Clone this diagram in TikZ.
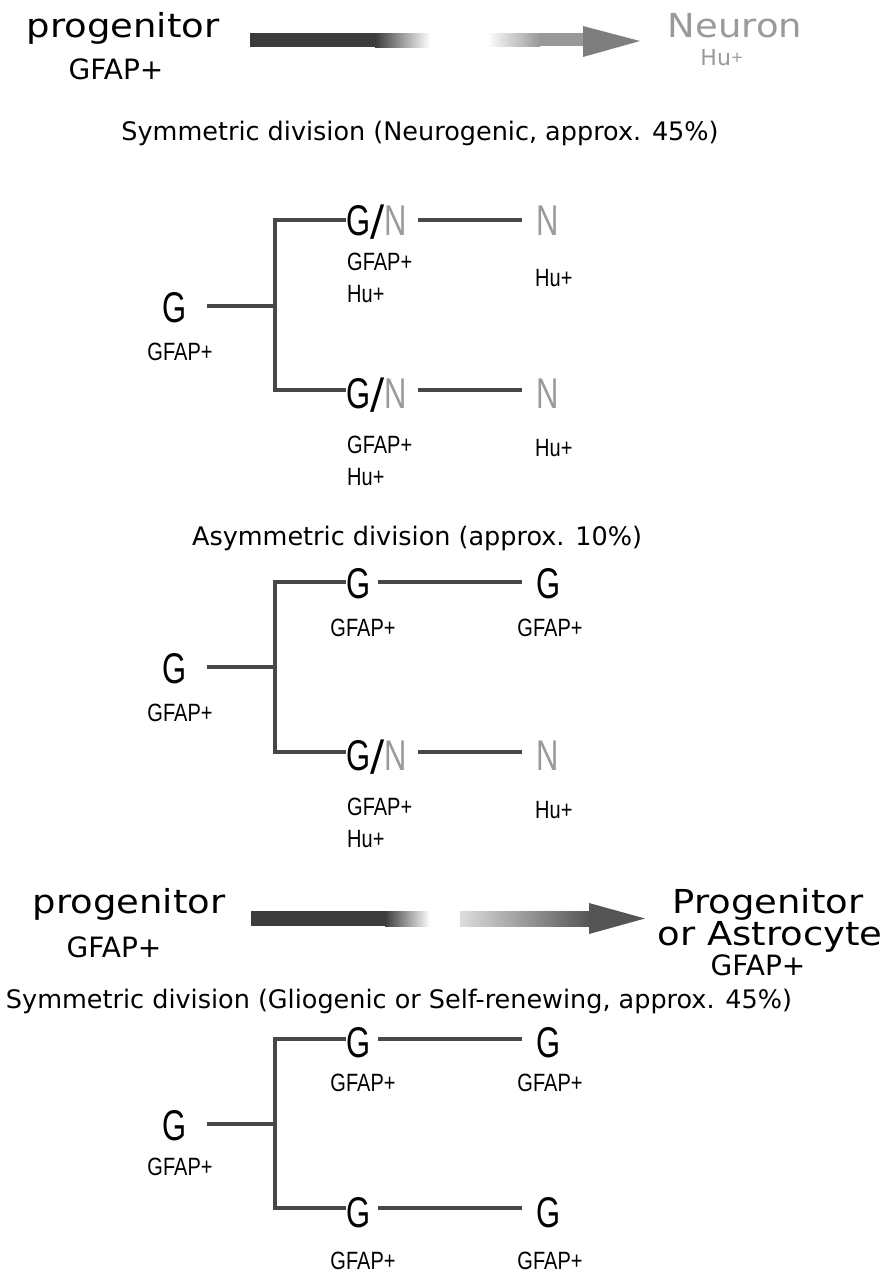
\documentclass[tikz,border=0pt]{standalone}
\usepackage{fontspec}
\setmainfont{DejaVu Sans}
\newfontfamily\widefont[FakeStretch=1.12]{DejaVu Sans}
\newfontfamily\slashfont{DejaVu Sans}
\newfontfamily\condfont[FakeStretch=0.72]{Liberation Sans}
\newfontfamily\condlab[FakeStretch=0.8]{Liberation Sans}
\definecolor{ngray}{HTML}{9A9A9A}
\definecolor{linegray}{HTML}{474747}
\definecolor{bardark}{HTML}{3C3C3C}
\definecolor{headgray}{HTML}{7E7E7E}
\definecolor{headdark}{HTML}{555555}
\newcommand{\gnslash}{{\slashfont\fontsize{42}{42}\selectfont /}}
\tikzset{
  bigG/.style={font=\condfont\fontsize{43}{43}\selectfont, inner sep=0pt, text height=31pt, text depth=0pt, anchor=west},
  labtxt/.style={font=\condlab\fontsize{25}{25}\selectfont, inner sep=0pt, text height=18pt, text depth=0pt},
  branch/.style={draw=linegray, line width=4pt},
  ttl/.style={font=\fontsize{25.5}{25.5}\selectfont, inner sep=0pt, anchor=base},
  bigtxt/.style={font=\widefont\fontsize{33}{33}\selectfont, inner sep=0pt, anchor=base},
  midtxt/.style={font=\fontsize{28}{28}\selectfont, inner sep=0pt, anchor=base},
  hutxt/.style={font=\fontsize{22}{22}\selectfont, inner sep=0pt, anchor=base, text=ngray}
}
\begin{document}
\begin{tikzpicture}[x=1pt,y=-1pt]
\useasboundingbox (0,0) rectangle (890,1272);

% ---------- top row ----------
\node[bigtxt] (p1) at (123,37) {progenitor};
\node[midtxt] (g1) at (116,79) {GFAP+};
\node[bigtxt, text=ngray] (n1) at (735,37) {Neuron};
\node[hutxt] (h1) at (722,65) {Hu\raisebox{3pt}{\fontsize{15}{15}\selectfont+}};
\fill[bardark] (250,33) rectangle (375,47);
\shade[left color=bardark, right color=white] (375,33) rectangle (430,47);
\shade[left color=white, right color=headgray!80] (487,33) rectangle (540,46);
\fill[headgray!80] (540,33) rectangle (584,46);
\fill[headgray] (583,26) -- (640,41) -- (583,57) -- cycle;

\node[ttl] (ttl1) at (420,140) {Symmetric division (Neurogenic, approx. 45\%)};

% ---------- tree 1 ----------
\node[bigG] (t1r) at (162,307) {G};
\node[labtxt] (t1rl) at (180,351) {GFAP+};
\coordinate (t1j) at (275,306);
\coordinate (t1u) at (275,220);
\coordinate (t1d) at (275,390);
\node[bigG] (t1a) at (346,220) {G\gnslash\textcolor{ngray}{N}};
\node[bigG] (t1b) at (346,393) {G\gnslash\textcolor{ngray}{N}};
\node[bigG, text=ngray] (t1c) at (536,220) {N};
\node[bigG, text=ngray] (t1e) at (536,393) {N};
\draw[branch] ([xshift=21pt]t1r.east |- t1j) -- (t1j);
\draw[branch] (t1u -| t1a.west) -- (t1u) -- (t1d) -- (t1d -| t1b.west);
\draw[branch] ([xshift=11pt]t1a.east |- t1u) -- ([xshift=-14pt]t1c.west |- t1u);
\draw[branch] ([xshift=11pt]t1b.east |- t1d) -- ([xshift=-14pt]t1e.west |- t1d);
\node[labtxt, anchor=north west] (t1al) at (347,252) {GFAP+};
\node[labtxt, anchor=north west] (t1ah) at (347,284) {Hu+};
\node[labtxt, anchor=north west] (t1ch) at (535,268) {Hu+};
\node[labtxt, anchor=north west] (t1bl) at (347,435) {GFAP+};
\node[labtxt, anchor=north west] (t1bh) at (347,467) {Hu+};
\node[labtxt, anchor=north west] (t1eh) at (535,438) {Hu+};

% ---------- tree 2 ----------
\node[ttl] (ttl2) at (417,545) {Asymmetric division (approx. 10\%)};
\node[bigG] (t2r) at (162,668) {G};
\node[labtxt] (t2rl) at (180,712) {GFAP+};
\coordinate (t2j) at (275,667);
\coordinate (t2u) at (275,582);
\coordinate (t2d) at (275,752);
\node[bigG] (t2a) at (346,583) {G};
\node[bigG] (t2c) at (536,583) {G};
\node[bigG] (t2b) at (346,755) {G\gnslash\textcolor{ngray}{N}};
\node[bigG, text=ngray] (t2e) at (536,755) {N};
\draw[branch] ([xshift=21pt]t2r.east |- t2j) -- (t2j);
\draw[branch] (t2u -| t2a.west) -- (t2u) -- (t2d) -- (t2d -| t2b.west);
\draw[branch] ([xshift=8pt]t2a.east |- t2u) -- ([xshift=-14pt]t2c.west |- t2u);
\draw[branch] ([xshift=11pt]t2b.east |- t2d) -- ([xshift=-14pt]t2e.west |- t2d);
\node[labtxt] (t2al) at (363,627) {GFAP+};
\node[labtxt] (t2cl) at (550,627) {GFAP+};
\node[labtxt, anchor=north west] (t2bl) at (347,797) {GFAP+};
\node[labtxt, anchor=north west] (t2bh) at (347,829) {Hu+};
\node[labtxt, anchor=north west] (t2eh) at (535,800) {Hu+};

% ---------- bottom row ----------
\node[bigtxt] (p2) at (129,913) {progenitor};
\node[midtxt] (g2) at (114,957) {GFAP+};
\node[bigtxt] (pa1) at (768,913) {Progenitor};
\node[bigtxt] (pa2) at (770,945) {or Astrocyte};
\node[midtxt] (pa3) at (758,975) {GFAP+};
\fill[bardark] (251,911) rectangle (385,926);
\shade[left color=bardark, right color=white] (385,911) rectangle (430,926);
\shade[left color=white!80!headdark, right color=headdark] (460,911) rectangle (590,926);
\fill[headdark] (589,903) -- (645,918.5) -- (589,934) -- cycle;

\node[ttl] (ttl3) at (399,1008) {Symmetric division (Gliogenic or Self-renewing, approx. 45\%)};

% ---------- tree 3 ----------
\node[bigG] (t3r) at (162,1125) {G};
\node[labtxt] (t3rl) at (180,1166) {GFAP+};
\coordinate (t3j) at (275,1124);
\coordinate (t3u) at (275,1039);
\coordinate (t3d) at (275,1208);
\node[bigG] (t3a) at (346,1042) {G};
\node[bigG] (t3c) at (536,1042) {G};
\node[bigG] (t3b) at (346,1212) {G};
\node[bigG] (t3e) at (536,1212) {G};
\draw[branch] ([xshift=21pt]t3r.east |- t3j) -- (t3j);
\draw[branch] (t3u -| t3a.west) -- (t3u) -- (t3d) -- (t3d -| t3b.west);
\draw[branch] ([xshift=8pt]t3a.east |- t3u) -- ([xshift=-14pt]t3c.west |- t3u);
\draw[branch] ([xshift=8pt]t3b.east |- t3d) -- ([xshift=-14pt]t3e.west |- t3d);
\node[labtxt] (t3al) at (363,1082) {GFAP+};
\node[labtxt] (t3cl) at (550,1082) {GFAP+};
\node[labtxt] (t3bl) at (363,1260) {GFAP+};
\node[labtxt] (t3el) at (550,1260) {GFAP+};
\end{tikzpicture}
\end{document}
